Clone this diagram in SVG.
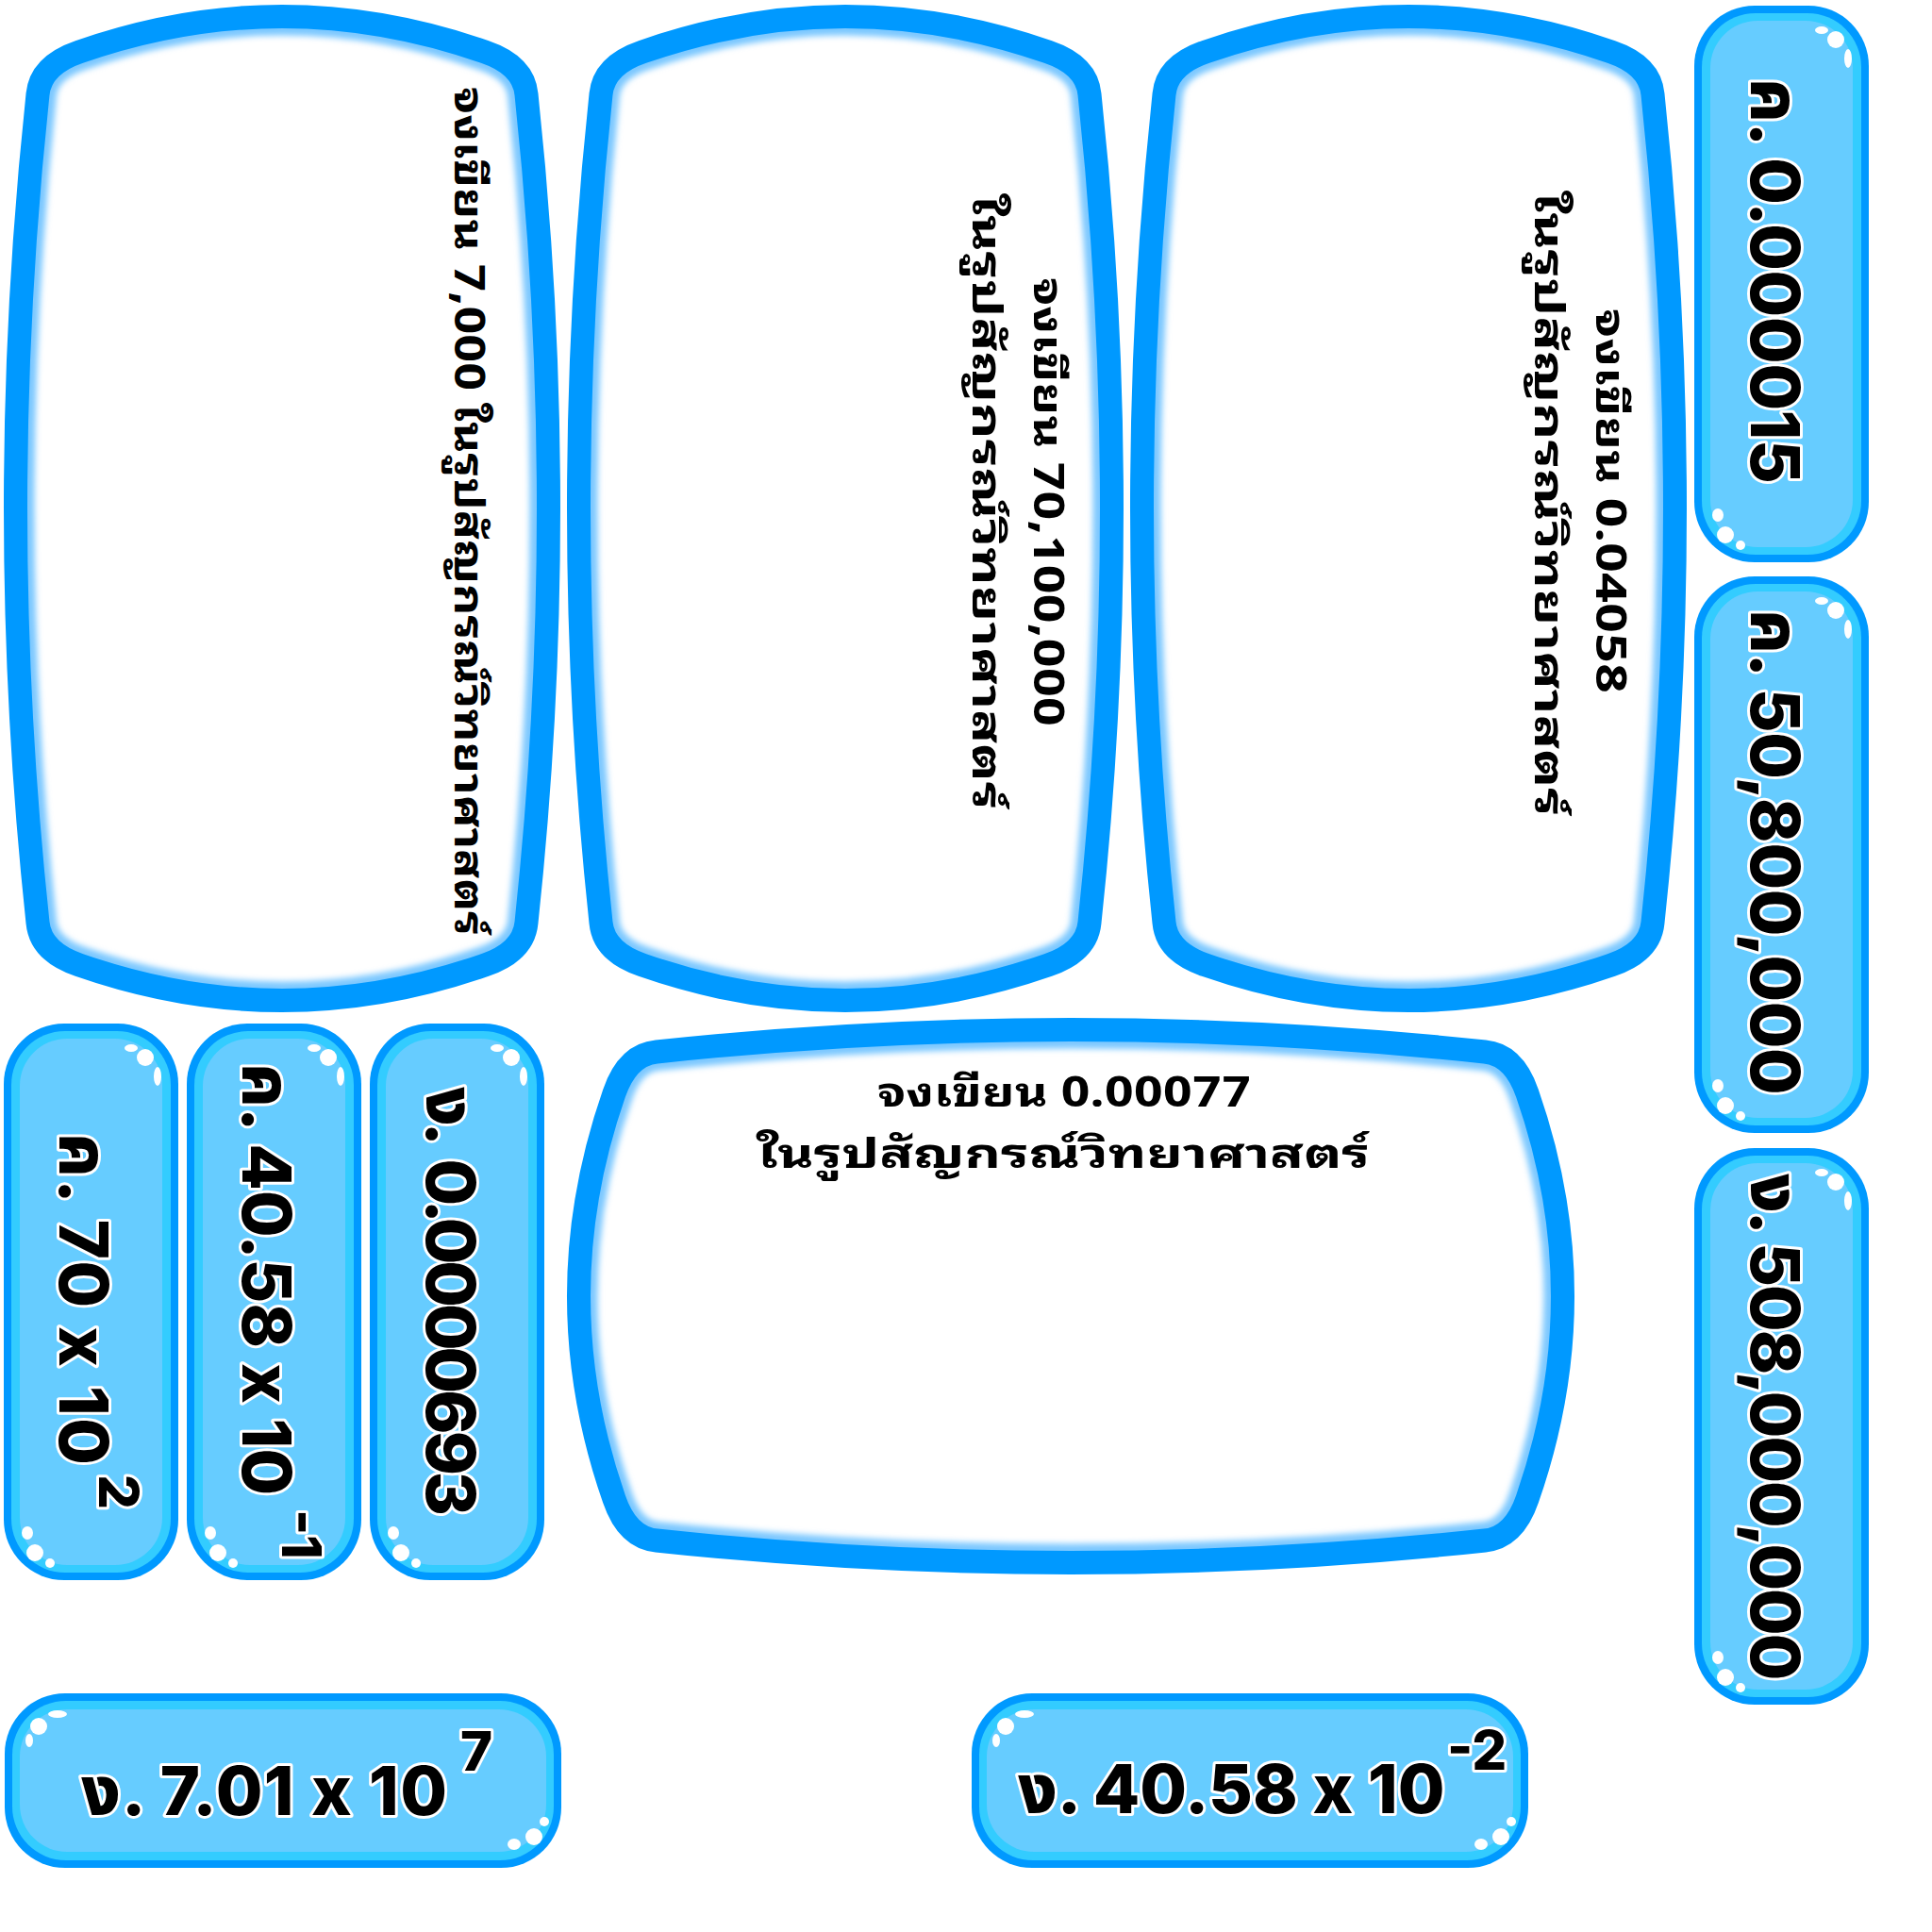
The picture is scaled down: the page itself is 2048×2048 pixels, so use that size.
<svg xmlns="http://www.w3.org/2000/svg" width="2048" height="2048" viewBox="0 0 2048 2048">
<defs>
<style>
.bg{fill:#ffffff}
.cfill{fill:#ffffff}
.cglow{fill:none;stroke:#7cc8ff;stroke-width:40;stroke-linejoin:round}
.cline{fill:none;stroke:#0099FF;stroke-width:25;stroke-linejoin:round}
.q{font-family:"Noto Sans Thai Looped","Noto Sans Thai","Noto Sans","DejaVu Sans",sans-serif;font-weight:700;font-size:44px;fill:#000000}
.p{font-family:"Inter","Noto Sans Thai","Noto Sans",sans-serif;font-weight:800;font-size:72px;fill:#000000;stroke:#ffffff;stroke-width:6;paint-order:stroke;stroke-linejoin:round}
.sup{font-size:58px}
.hl{fill:#ffffff}
</style>
<filter id="soft" x="-10%" y="-10%" width="120%" height="120%"><feGaussianBlur stdDeviation="3"/></filter>
<path id="card" d="M 36,95 Q 39,64 80,50 Q 295,-25 510,50 Q 551,64 554,95 Q 601,534 554,973 Q 551,1004 510,1018 Q 295,1093 80,1018 Q 39,1004 36,973 Q -11,534 36,95 Z"/>
<clipPath id="cardclip"><use href="#card"/></clipPath>
<g id="cardShape">
<use href="#card" class="cfill"/>
<g clip-path="url(#cardclip)"><use href="#card" class="cglow" filter="url(#soft)"/></g>
<use href="#card" class="cline"/>
</g>
<g id="pill">
<rect x="0" y="0" width="590" height="185" rx="64" fill="#0099FF"/>
<rect x="8" y="8" width="574" height="169" rx="57" fill="#33CCFF"/>
<rect x="16" y="17" width="558" height="151" rx="50" fill="#66CCFF"/>
<ellipse class="hl" cx="56" cy="22" rx="10" ry="4"/>
<circle class="hl" cx="36" cy="35" r="9"/>
<ellipse class="hl" cx="26" cy="50" rx="4" ry="7"/>
<circle class="hl" cx="572" cy="136" r="5"/>
<circle class="hl" cx="561" cy="152" r="9"/>
<ellipse class="hl" cx="540" cy="160" rx="7" ry="6"/>
</g>
</defs>
<rect class="bg" x="0" y="0" width="2048" height="2048"/>

<g id="card-a">
<use href="#cardShape" transform="translate(4,5)"/>
<text class="q" transform="translate(482,542) rotate(90)" text-anchor="middle" textLength="900" lengthAdjust="spacingAndGlyphs">จงเขียน 7,000 ในรูปสัญกรณ์วิทยาศาสตร์</text>
</g>

<g id="card-b">
<use href="#cardShape" transform="translate(601,5)"/>
<text class="q" transform="translate(1096,532) rotate(90)" text-anchor="middle" textLength="476" lengthAdjust="spacingAndGlyphs">จงเขียน 70,100,000</text>
<text class="q" transform="translate(1031,532) rotate(90)" text-anchor="middle" textLength="653" lengthAdjust="spacingAndGlyphs">ในรูปสัญกรณ์วิทยาศาสตร์</text>
</g>

<g id="card-c">
<use href="#cardShape" transform="translate(1198,5)"/>
<text class="q" transform="translate(1692,531) rotate(90)" text-anchor="middle" textLength="408" lengthAdjust="spacingAndGlyphs">จงเขียน 0.04058</text>
<text class="q" transform="translate(1627,534) rotate(90)" text-anchor="middle" textLength="663" lengthAdjust="spacingAndGlyphs">ในรูปสัญกรณ์วิทยาศาสตร์</text>
</g>

<g id="card-d">
<use href="#cardShape" transform="translate(601,1669) rotate(-90)"/>
<text class="q" x="1128" y="1173" text-anchor="middle" textLength="396" lengthAdjust="spacingAndGlyphs">จงเขียน 0.00077</text>
<text class="q" x="1127" y="1238" text-anchor="middle" textLength="650" lengthAdjust="spacingAndGlyphs">ในรูปสัญกรณ์วิทยาศาสตร์</text>
</g>

<g id="pill-r1" transform="translate(1981,6) rotate(90)">
<use href="#pill"/>
<text class="p" x="77" y="125" letter-spacing="-0.4">ค. 0.000015</text>
</g>
<g id="pill-r2" transform="translate(1981,611) rotate(90)">
<use href="#pill"/>
<text class="p" x="35" y="125" letter-spacing="-0.5">ค. 50,800,000</text>
</g>
<g id="pill-r3" transform="translate(1981,1217) rotate(90)">
<use href="#pill"/>
<text class="p" x="27" y="125" letter-spacing="-2.2">ง. 508,000,000</text>
</g>

<g id="pill-v1" transform="translate(189,1085) rotate(90)">
<use href="#pill"/>
<text class="p" x="116" y="126" letter-spacing="2.2">ค. 70 x 10<tspan class="sup" x="478" y="84" letter-spacing="0">2</tspan></text>
</g>
<g id="pill-v2" transform="translate(383,1085) rotate(90)">
<use href="#pill"/>
<text class="p" x="42" y="126">ค. 40.58 x 10<tspan class="sup" x="515" y="84">-1</tspan></text>
</g>
<g id="pill-v3" transform="translate(577,1085) rotate(90)">
<use href="#pill"/>
<text class="p" x="67" y="125" letter-spacing="-4.2" word-spacing="9">ง. 0.0000693</text>
</g>

<g id="pill-h1" transform="translate(5,1795)">
<use href="#pill"/>
<text class="p" x="81" y="129" letter-spacing="1.3">ง. 7.01 x 10<tspan class="sup" x="483" y="82" letter-spacing="0">7</tspan></text>
</g>
<g id="pill-h2" transform="translate(1030,1795)">
<use href="#pill"/>
<text class="p" x="49" y="127">ง. 40.58 x 10<tspan class="sup" x="504" y="81">-2</tspan></text>
</g>
</svg>
